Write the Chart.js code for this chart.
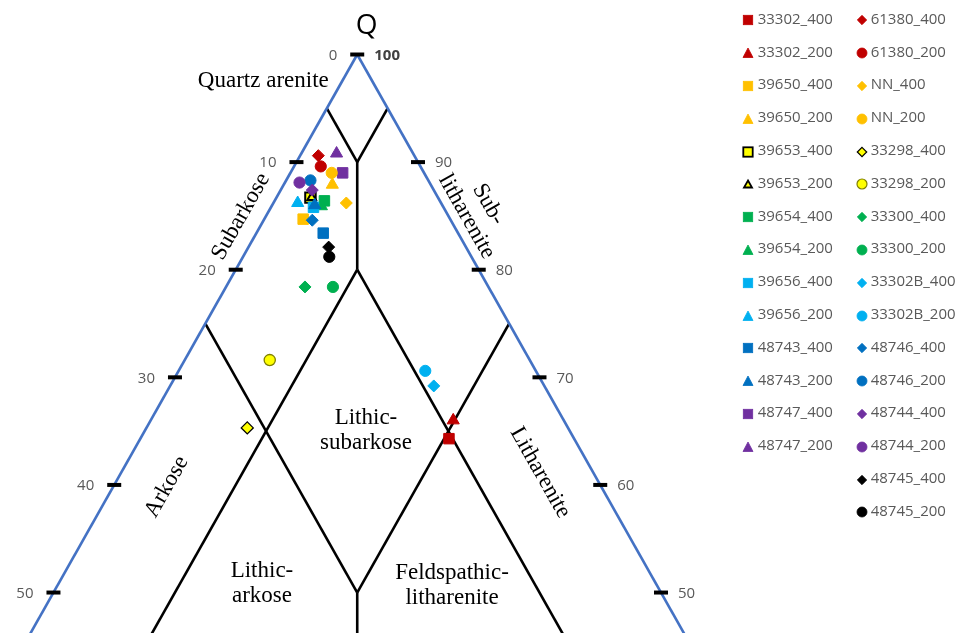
<!DOCTYPE html>
<html><head><meta charset="utf-8">
<script src="https://cdn.jsdelivr.net/npm/chart.js@4"></script>
<style>
html,body{margin:0;padding:0;background:#fff;}
#wrap{position:relative;width:965px;height:633px;overflow:hidden;}
#c{position:absolute;left:0;top:0;}
#legend{position:absolute;left:0;top:0;width:965px;height:633px;pointer-events:none;font-family:"Open Sans",sans-serif;font-size:15px;color:#595959;}
.lt{position:absolute;white-space:nowrap;line-height:20px;height:20px;}
.lm{position:absolute;width:14px;height:14px;}
</style></head><body>
<div id="wrap"><canvas id="c" width="965" height="633"></canvas><div id="legend"></div></div>
<script>
// ---- data (percent Q / F / L) ----
const seriesNames = ['33302_400','33302_200','39650_400','39650_200','39653_400','39653_200','39654_400','39654_200','39656_400','39656_200','48743_400','48743_200','48747_400','48747_200',
  '61380_400','61380_200','NN_400','NN_200','33298_400','33298_200','33300_400','33300_200','33302B_400','33302B_200','48746_400','48746_200','48744_400','48744_200','48745_400','48745_200'];
const seriesQ = [64.3,66.0,84.7,87.9,86.7,86.7,86.4,85.9,85.8,86.2,83.4,86.0,89.0,90.8,
  90.6,89.6,86.2,89.0,65.3,71.6,78.4,78.4,69.2,70.6,84.6,88.3,87.4,88.1,82.1,81.2];
const seriesF = [10.3,9.1,12.1,8.1,10.5,10.4,9.5,10.0,10.7,11.8,11.1,10.5,6.7,6.3,
  7.9,8.2,7.8,7.6,26.4,21.4,15.1,12.8,9.1,9.1,11.4,9.7,10.0,10.7,11.3,11.7];
const seriesL = [25.4,24.9,3.2,4.0,2.8,2.9,4.1,4.1,3.5,2.0,5.5,3.5,4.3,2.9,
  1.5,2.2,6.0,3.4,8.3,7.0,6.5,8.8,21.7,20.3,4.0,2.0,2.6,1.2,6.6,7.1];
const seriesColors = ['#C00000','#C00000','#FFC000','#FFC000','#FFFF00','#FFFF00','#00B050','#00B050','#00B0F0','#00B0F0','#0070C0','#0070C0','#7030A0','#7030A0',
  '#C00000','#C00000','#FFC000','#FFC000','#FFFF00','#FFFF00','#00B050','#00B050','#00B0F0','#00B0F0','#0070C0','#0070C0','#7030A0','#7030A0','#000000','#000000'];
const seriesShapes = ['rect','triangle','rect','triangle','rect','triangle','rect','triangle','rect','triangle','rect','triangle','rect','triangle',
  'rectRot','circle','rectRot','circle','rectRot','circle','rectRot','circle','rectRot','circle','rectRot','circle','rectRot','circle','rectRot','circle'];

// tick labels along the two sides
const tickQ = [100,90,80,70,60,50];
const leftTickLabels = ['0','10','20','30','40','50'];
const rightTickLabels = ['100','90','80','70','60','50'];

// classification boundaries [Q1,F1,L1, Q2,F2,L2]
const edgeLines = [[100,0,0, 40,60,0],[100,0,0, 40,0,60]];
const fieldLines = [
  [95,5,0, 90,5,5],[95,0,5, 90,5,5],[90,5,5, 80,10,10],
  [80,10,10, 40,50,10],[80,10,10, 40,10,50],
  [75,25,0, 50,25,25],[75,0,25, 50,25,25],[50,25,25, 40,30,30]
];
const fieldNames = [['Quartz arenite'],['Subarkose'],['Sub-','litharenite'],['Lithic-','subarkose'],['Arkose'],['Litharenite'],['Lithic-','arkose'],['Feldspathic-','litharenite']];

// ---- helpers ----
function toXY(q,f,l){ const s=q+f+l; return {x:(l-f)/2*100/s, y:q*100/s}; }

const borderCol = i => {
  const n = seriesNames[i];
  if (n.startsWith('39653')) return '#000000';
  if (n === '33298_400') return '#000000';
  if (n === '33298_200') return '#7F7F00';
  return seriesColors[i];
};
const borderW = i => seriesNames[i].startsWith('39653') ? 2 : (seriesNames[i].startsWith('33298') ? 1.3 : 1);
const radiusFor = i => {
  const s = seriesShapes[i];
  if (seriesNames[i]==='39653_200') return 5;
  if (s==='rect') return 7.4;
  if (s==='triangle') return 7;
  if (s==='rectRot') return 6;
  return 5.6;
};

const datasets = [];
seriesNames.forEach((n,i)=>{
  datasets.push({
    label:n, data:[toXY(seriesQ[i],seriesF[i],seriesL[i])],
    pointStyle:seriesShapes[i], pointRadius:radiusFor(i),
    backgroundColor:seriesColors[i], borderColor:borderCol(i), borderWidth:borderW(i),
    order:-i
  });
});
edgeLines.forEach(a=>datasets.push({data:[toXY(a[0],a[1],a[2]),toXY(a[3],a[4],a[5])],showLine:true,pointRadius:0,borderColor:'#4472C4',borderWidth:2.6,order:1000}));
fieldLines.forEach(a=>datasets.push({data:[toXY(a[0],a[1],a[2]),toXY(a[3],a[4],a[5])],showLine:true,pointRadius:0,borderColor:'#000000',borderWidth:2.6,order:1001}));
const tickPts = [];
tickQ.forEach(q=>{ tickPts.push(toXY(q,100-q,0)); if(q<100) tickPts.push(toXY(q,0,100-q)); });
datasets.push({data:tickPts,pointStyle:'line',pointRadius:7,borderColor:'#000000',borderWidth:4,order:999});

// label placement (data coords) and rotation
const fieldPos = [
  {x:-7.73,y:97.54,rot:0},{x:-9.58,y:84.94,rot:-60.5},{x:9.9,y:85.5,rot:60.5},{x:0.72,y:65.1,rot:0},
  {x:-15.68,y:59.83,rot:-60.5},{x:15.05,y:61.15,rot:60.5},{x:-7.84,y:50.88,rot:0},{x:7.8,y:50.7,rot:0}
];

const textPlugin = {
  id:'ternaryText',
  afterDatasetsDraw(chart){
    const ctx = chart.ctx, sx = chart.scales.x, sy = chart.scales.y;
    ctx.save();
    ctx.textBaseline = 'middle';
    tickQ.forEach((q,i)=>{
      const pl = toXY(q,100-q,0), pr = toXY(q,0,100-q);
      ctx.fillStyle = '#595959';
      ctx.font = '15px "Open Sans"';
      ctx.textAlign = 'right';
      ctx.fillText(leftTickLabels[i], sx.getPixelForValue(pl.x)-20, sy.getPixelForValue(pl.y)+1);
      ctx.textAlign = 'left';
      if (q===100) { ctx.font = 'bold 15px "Open Sans"'; ctx.fillStyle = '#404040'; }
      ctx.fillText(rightTickLabels[i], sx.getPixelForValue(pr.x)+17, sy.getPixelForValue(pr.y)+1);
    });
    // title Q
    ctx.fillStyle = '#000';
    ctx.font = '28px "Open Sans"';
    ctx.textAlign = 'center';
    ctx.fillText('Q', sx.getPixelForValue(0.78), sy.getPixelForValue(102.65));
    // field names
    ctx.font = '23px "Liberation Serif"';
    fieldNames.forEach((lines,i)=>{
      const p = fieldPos[i];
      ctx.save();
      ctx.translate(sx.getPixelForValue(p.x), sy.getPixelForValue(p.y));
      ctx.rotate(p.rot*Math.PI/180);
      const lh = 25, n = lines.length;
      lines.forEach((t,k)=>ctx.fillText(t, 0, (k-(n-1)/2)*lh));
      ctx.restore();
    });
    ctx.restore();
  }
};

new Chart(document.getElementById('c'), {
  type:'scatter',
  data:{datasets},
  options:{
    responsive:false, animation:false, devicePixelRatio:1,
    layout:{padding:0, autoPadding:false},
    scales:{
      x:{type:'linear',min:-29.40,max:50.02,display:false},
      y:{type:'linear',min:46.24,max:105.065,display:false}
    },
    plugins:{legend:{display:false},tooltip:{enabled:false}}
  },
  plugins:[textPlugin]
});

// ---- legend (HTML) ----
function markerSVG(i){
  const s = seriesShapes[i], fill = seriesColors[i], st = borderCol(i);
  const sw = seriesNames[i].startsWith('39653') ? 1.8 : (seriesNames[i].startsWith('33298') ? 1.2 : 0.8);
  let shape;
  if (s==='rect') shape = `<rect x="2.3" y="2.3" width="9.4" height="9.4" fill="${fill}" stroke="${st}" stroke-width="${sw}"/>`;
  else if (s==='triangle') { const small = seriesNames[i]==='39653_200'; shape = small ? `<polygon points="7,3.5 11,10.5 3,10.5" fill="${fill}" stroke="${st}" stroke-width="${sw}"/>` : `<polygon points="7,2 12,11.5 2,11.5" fill="${fill}" stroke="${st}" stroke-width="${sw}"/>`; }
  else if (s==='rectRot') shape = `<polygon points="7,2.3 11.7,7 7,11.7 2.3,7" fill="${fill}" stroke="${st}" stroke-width="${sw}"/>`;
  else shape = `<circle cx="7" cy="7" r="5" fill="${fill}" stroke="${st}" stroke-width="${sw}"/>`;
  return `<svg width="14" height="14" viewBox="0 0 14 14">${shape}</svg>`;
}
const legendEl = document.getElementById('legend');
const col1Count = 14;
seriesNames.forEach((n,i)=>{
  const col = i<col1Count?0:1, row = i<col1Count?i:i-col1Count;
  const mx = col?861.7:748.3, tx = col?870.7:757.7, cy = 18.3+32.8*row;
  const m = document.createElement('div'); m.className='lm';
  m.style.left=(mx-7)+'px'; m.style.top=(cy-7)+'px'; m.innerHTML=markerSVG(i);
  const t = document.createElement('div'); t.className='lt';
  t.style.left=tx+'px'; t.style.top=(cy-10.5)+'px'; t.textContent=n;
  legendEl.appendChild(m); legendEl.appendChild(t);
});
</script>
</body></html>
